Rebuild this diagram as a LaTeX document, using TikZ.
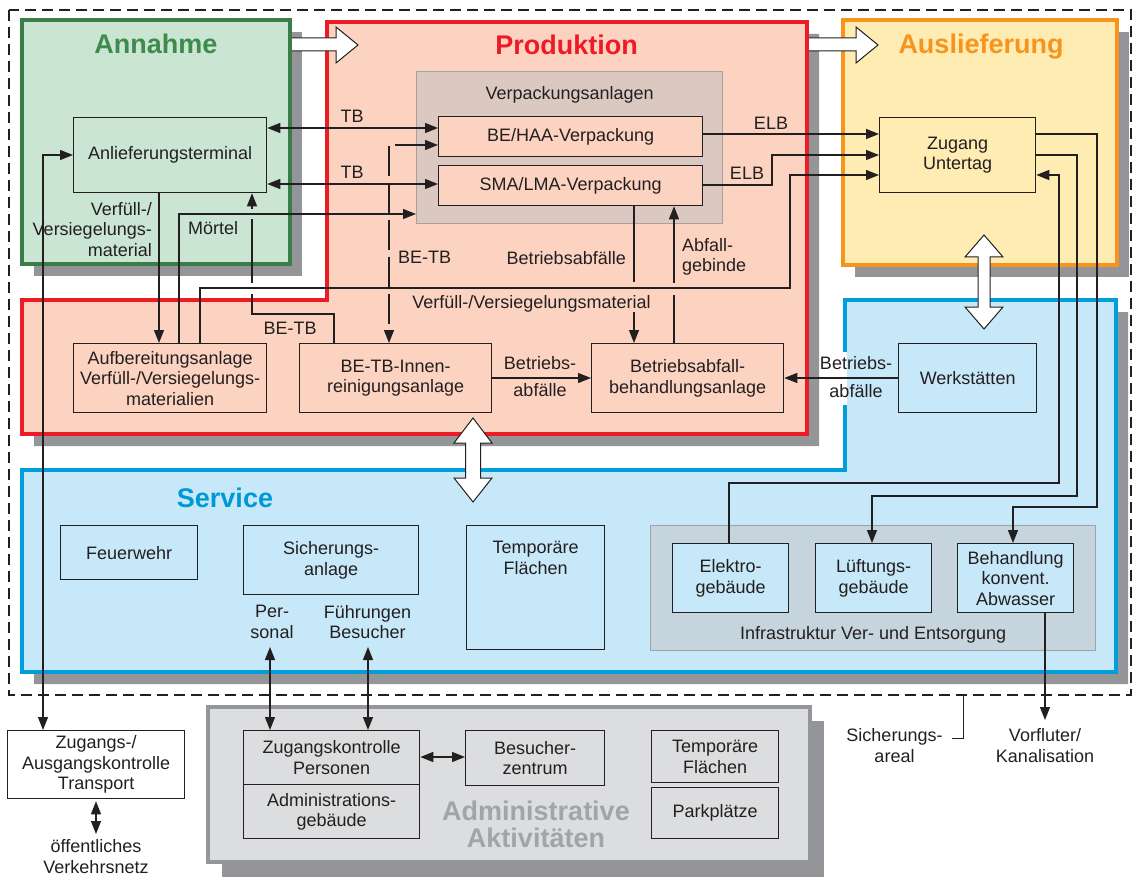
\documentclass[tikz,border=0pt]{standalone}
\usepackage{fontspec}
\setmainfont{Liberation Sans}
\usetikzlibrary{arrows.meta,calc}
\definecolor{txt}{HTML}{231F20}
\definecolor{shadowgrey}{HTML}{939598}
\definecolor{grnB}{HTML}{3B7D48}
\definecolor{grnF}{HTML}{CBE5D3}
\definecolor{grnT}{HTML}{3F8A4D}
\definecolor{redB}{HTML}{ED1C24}
\definecolor{redF}{HTML}{FCD3C1}
\definecolor{orB}{HTML}{F7941D}
\definecolor{orF}{HTML}{FEECB3}
\definecolor{bluB}{HTML}{009FDC}
\definecolor{bluF}{HTML}{C7E8F8}
\definecolor{bluT}{HTML}{0099D8}
\definecolor{admB}{HTML}{939598}
\definecolor{admF}{HTML}{DCDDDE}
\definecolor{admT}{HTML}{A3A4A7}
\definecolor{vpF}{HTML}{DBC8C0}
\definecolor{vpB}{HTML}{A7A09D}
\definecolor{infF}{HTML}{C6D5DD}
\definecolor{infB}{HTML}{9DA3A7}
\begin{document}
\begin{tikzpicture}[x=1pt,y=-1pt,
  every node/.style={font=\fontsize{18}{20.5}\selectfont, text=txt, inner sep=0pt},
  box/.style={draw=txt, line width=1.3pt, align=center, anchor=north west},
  grp/.style={line width=1.3pt, anchor=north west},
  title/.style={font=\fontsize{27}{27}\selectfont\bfseries, align=center},
  region/.style={line width=3.5pt},
  conn/.style={draw=txt, line width=1.3pt},
  arr/.style={conn, -{Triangle[length=13pt,width=10pt]}},
  darr/.style={conn, {Triangle[length=13pt,width=10pt]}-{Triangle[length=13pt,width=10pt]}},
  bigarrow/.style={fill=white, draw=txt, line width=1pt, line join=miter},
  lab/.style={align=center}
]
\useasboundingbox (0,0) rectangle (1132,877);

% outer dashed area
\draw[txt, line width=1.3pt, dash pattern=on 11pt off 6pt] (9,10) rectangle (1131,695);

% shadows
\fill[shadowgrey] (34,32) rectangle (302,276);
\fill[shadowgrey] (339,34) -- (819,34) -- (819,446) -- (34,446) -- (34,312) -- (339,312) -- cycle;
\fill[shadowgrey] (855,32) rectangle (1129,277);
\fill[shadowgrey] (857,312) -- (1128,312) -- (1128,684) -- (34,684) -- (34,482) -- (857,482) -- cycle;
\fill[shadowgrey] (222,721) rectangle (824,877);

% regions
\filldraw[region, fill=grnF, draw=grnB] (22,20) rectangle (290,264);
\filldraw[region, fill=redF, draw=redB] (327,22) -- (807,22) -- (807,434) -- (22,434) -- (22,300) -- (327,300) -- cycle;
\filldraw[region, fill=orF, draw=orB] (843,20) rectangle (1117,265);
\filldraw[region, fill=bluF, draw=bluB] (845,300) -- (1116,300) -- (1116,672) -- (22,672) -- (22,470) -- (845,470) -- cycle;
\filldraw[region, fill=admF, draw=admB] (208,707) rectangle (810,862);
\fill[white] (842,352) rectangle (846.8,405);

% titles
\node[title, text=grnT] (tAnn) at (156,43.5) {Annahme};
\node[title, text=redB] (tPro) at (566.5,44.5) {Produktion};
\node[title, text=orB] (tAus) at (981,47) {Auslieferung};
\node[title, text=bluT] (tSer) at (225,497.5) {Service};
\node[title, text=admT] (tAdm) at (536,824) {Administrative\\Aktivitäten};

% group boxes
\node[grp, draw=vpB, fill=vpF, minimum width=306, minimum height=152,
  label={[anchor=north,yshift=-15pt]north:Verpackungsanlagen}] (vpa) at (416,71) {};
\node[grp, draw=infB, fill=infF, minimum width=445, minimum height=125,
  label={[anchor=south,yshift=8pt]south:Infrastruktur Ver- und Entsorgung}] (inf) at (650,525) {};

% boxes
\node[box, minimum width=193, minimum height=75] (anl) at (73,117) {Anlieferungsterminal};
\node[box, fill=redF, minimum width=264, minimum height=40] (beh) at (438,116) {BE/HAA-Verpackung};
\node[box, fill=redF, minimum width=264, minimum height=40] (sma) at (438,165) {SMA/LMA-Verpackung};
\node[box, minimum width=156, minimum height=75] (zug) at (879,117) {Zugang\\Untertag};
\node[box, minimum width=193, minimum height=69] (auf) at (73,343) {Aufbereitungsanlage\\Verfüll-/Versiegelungs-\\materialien};
\node[box, minimum width=192, minimum height=69] (bet) at (299,343) {BE-TB-Innen-\\reinigungsanlage};
\node[box, minimum width=192, minimum height=69] (bba) at (591,343) {Betriebsabfall-\\behandlungsanlage};
\node[box, minimum width=138, minimum height=69] (wer) at (898,343) {Werkstätten};
\node[box, minimum width=137, minimum height=54] (feu) at (60,525) {Feuerwehr};
\node[box, minimum width=175, minimum height=69] (sic) at (243,525) {Sicherungs-\\anlage};
\node[box, minimum width=138, minimum height=124,
  label={[anchor=north,yshift=-16pt,align=center]north:{Temporäre\\Flächen}}] (tmp) at (466,525) {};
\node[box, fill=bluF, minimum width=116, minimum height=69] (elk) at (672,543) {Elektro-\\gebäude};
\node[box, fill=bluF, minimum width=116, minimum height=69] (luf) at (815,543) {Lüftungs-\\gebäude};
\node[box, fill=bluF, minimum width=116, minimum height=69] (abw) at (957,543) {Behandlung\\konvent.\\Abwasser};
\node[box, fill=white, minimum width=177, minimum height=68] (zak) at (7,730) {Zugangs-/\\Ausgangskontrolle\\Transport};
\node[box, minimum width=176, minimum height=54] (zkp) at (243,730) {Zugangskontrolle\\Personen};
\node[box, minimum width=176, minimum height=54] (adg) at (243,784) {Administrations-\\gebäude};
\node[box, minimum width=139, minimum height=55] (bes) at (465,730) {Besucher-\\zentrum};
\node[box, minimum width=127, minimum height=52] (tfa) at (651,730) {Temporäre\\Flächen};
\node[box, minimum width=127, minimum height=51] (par) at (651,787) {Parkplätze};

% free texts
\node[lab] (oev) at (96,856.5) {öffentliches\\Verkehrsnetz};
\node[lab] (sar) at (894.5,745.5) {Sicherungs-\\areal};
\node[lab] (vor) at (1045,745.5) {Vorfluter/\\Kanalisation};

% labels on connectors
\node (lTB1) at (352,116) {TB};
\node (lTB2) at (352,172) {TB};
\node (lELB1) at (771,123) {ELB};
\node (lELB2) at (747,173) {ELB};
\node[align=right, anchor=east] (lVer) at (152,229.5) {Verfüll-/\\Versiegelungs-\\material};
\node[anchor=west] (lMoe) at (188,228.5) {Mörtel};
\node[anchor=west] (lBETB1) at (398,257) {BE-TB};
\node (lBETB2) at (290,328) {BE-TB};
\node[anchor=east] (lBA) at (626,258) {Betriebsabfälle};
\node[align=left, anchor=west] (lAG) at (682,257) {Abfall-\\gebinde};
\node (lVVM) at (531.5,303.5) {Verfüll-/Versiegelungsmaterial};
\node[lab] (lBA2) at (540,376.5) {Betriebs-\\[6.5pt]abfälle};
\node[lab] (lBA3) at (856,377) {Betriebs-\\[7pt]abfälle};
\node[lab] (lPer) at (272,622) {Per-\\sonal};
\node[lab] (lFue) at (367.5,622) {Führungen\\Besucher};

% connectors
\draw[darr] (anl.east |- 0,128) -- (beh.west |- 0,128);
\draw[darr] (anl.east |- 0,184) -- (sma.west |- 0,184);
\draw[darr, dash pattern=on 30pt off 7pt] (beh.west |- 0,145) -- (389,145) -- (bet.north -| 389,0);
\draw[arr] (auf.north -| 179,0) -- (179,214) -- (vpa.west |- 0,214);
\draw[arr] (anl.south -| 159,0) -- (auf.north -| 159,0);
\draw[conn] (bet.north -| 334,0) -- (334,314) -- (252,314) -- (252,294);
\draw[conn] (252,283) -- (252,219);
\draw[arr] (252,209) -- (anl.south -| 252,0);
\draw[arr] (auf.north -| 200,0) -- (200,288) -- (790,288) -- (790,175) -- (zug.west |- 0,175);
\draw[arr] (beh.east |- 0,134) -- (zug.west |- 0,134);
\draw[arr] (sma.east |- 0,185) -- (772,185) -- (772,155) -- (zug.west |- 0,155);
\draw[conn] (sma.south -| 634,0) -- (634,282);
\draw[arr] (634,312) -- (bba.north -| 634,0);
\draw[conn] (bba.north -| 674,0) -- (674,295);
\draw[arr] (674,283) -- (sma.south -| 674,0);
\draw[arr] (bet.east |- 0,378) -- (bba.west |- 0,378);
\draw[arr] (wer.west |- 0,378) -- (bba.east |- 0,378);
\draw[arr] (elk.north -| 729,0) -- (729,483) -- (1059,483) -- (1059,175) -- (zug.east |- 0,175);
\draw[arr] (zug.east |- 0,155) -- (1077,155) -- (1077,496) -- (872,496) -- (luf.north -| 872,0);
\draw[arr] (zug.east |- 0,134) -- (1097,134) -- (1097,507) -- (1013,507) -- (abw.north -| 1013,0);
\coordinate (vorTop) at (1045,720);
\draw[arr] (abw.south -| vorTop) -- (vorTop);
\draw[darr] (anl.west |- 0,155) -- (43,155) -- (zak.north -| 43,0);
\coordinate (oevTop) at (96,834);
\draw[darr] (zak.south -| oevTop) ++(0,2) -- (oevTop);
\coordinate (perTop) at (270,647);
\coordinate (fueTop) at (368,647);
\draw[darr] (perTop) -- (zkp.north -| perTop);
\draw[darr] (fueTop) -- (zkp.north -| fueTop);
\draw[darr] (zkp.east |- 0,757) -- (bes.west |- 0,757);
\coordinate (sarA) at (963,695);
\draw[conn, line width=1pt] (sarA) -- (963,738) -- (952,738);

% big white arrows
\fill[white] (292,38) -- (336,38) -- (336,27) -- (358,45) -- (336,63) -- (336,51) -- (292,51) -- cycle;
\draw[bigarrow] (292,38) -- (336,38) -- (336,27) -- (358,45) -- (336,63) -- (336,51) -- (292,51);
\fill[white] (809,38) -- (856,38) -- (856,27) -- (878,45) -- (856,63) -- (856,51) -- (809,51) -- cycle;
\draw[bigarrow] (809,38) -- (856,38) -- (856,27) -- (878,45) -- (856,63) -- (856,51) -- (809,51);
\draw[bigarrow] (984,235) -- (1003,257) -- (990,257) -- (990,307) -- (1003,307) -- (984,329) -- (965,307) -- (978,307) -- (978,257) -- (965,257) -- cycle;
\draw[bigarrow] (473,418) -- (492,443) -- (480.5,443) -- (480.5,478) -- (492,478) -- (473,502) -- (454,478) -- (465.5,478) -- (465.5,443) -- (454,443) -- cycle;
\end{tikzpicture}
\end{document}
